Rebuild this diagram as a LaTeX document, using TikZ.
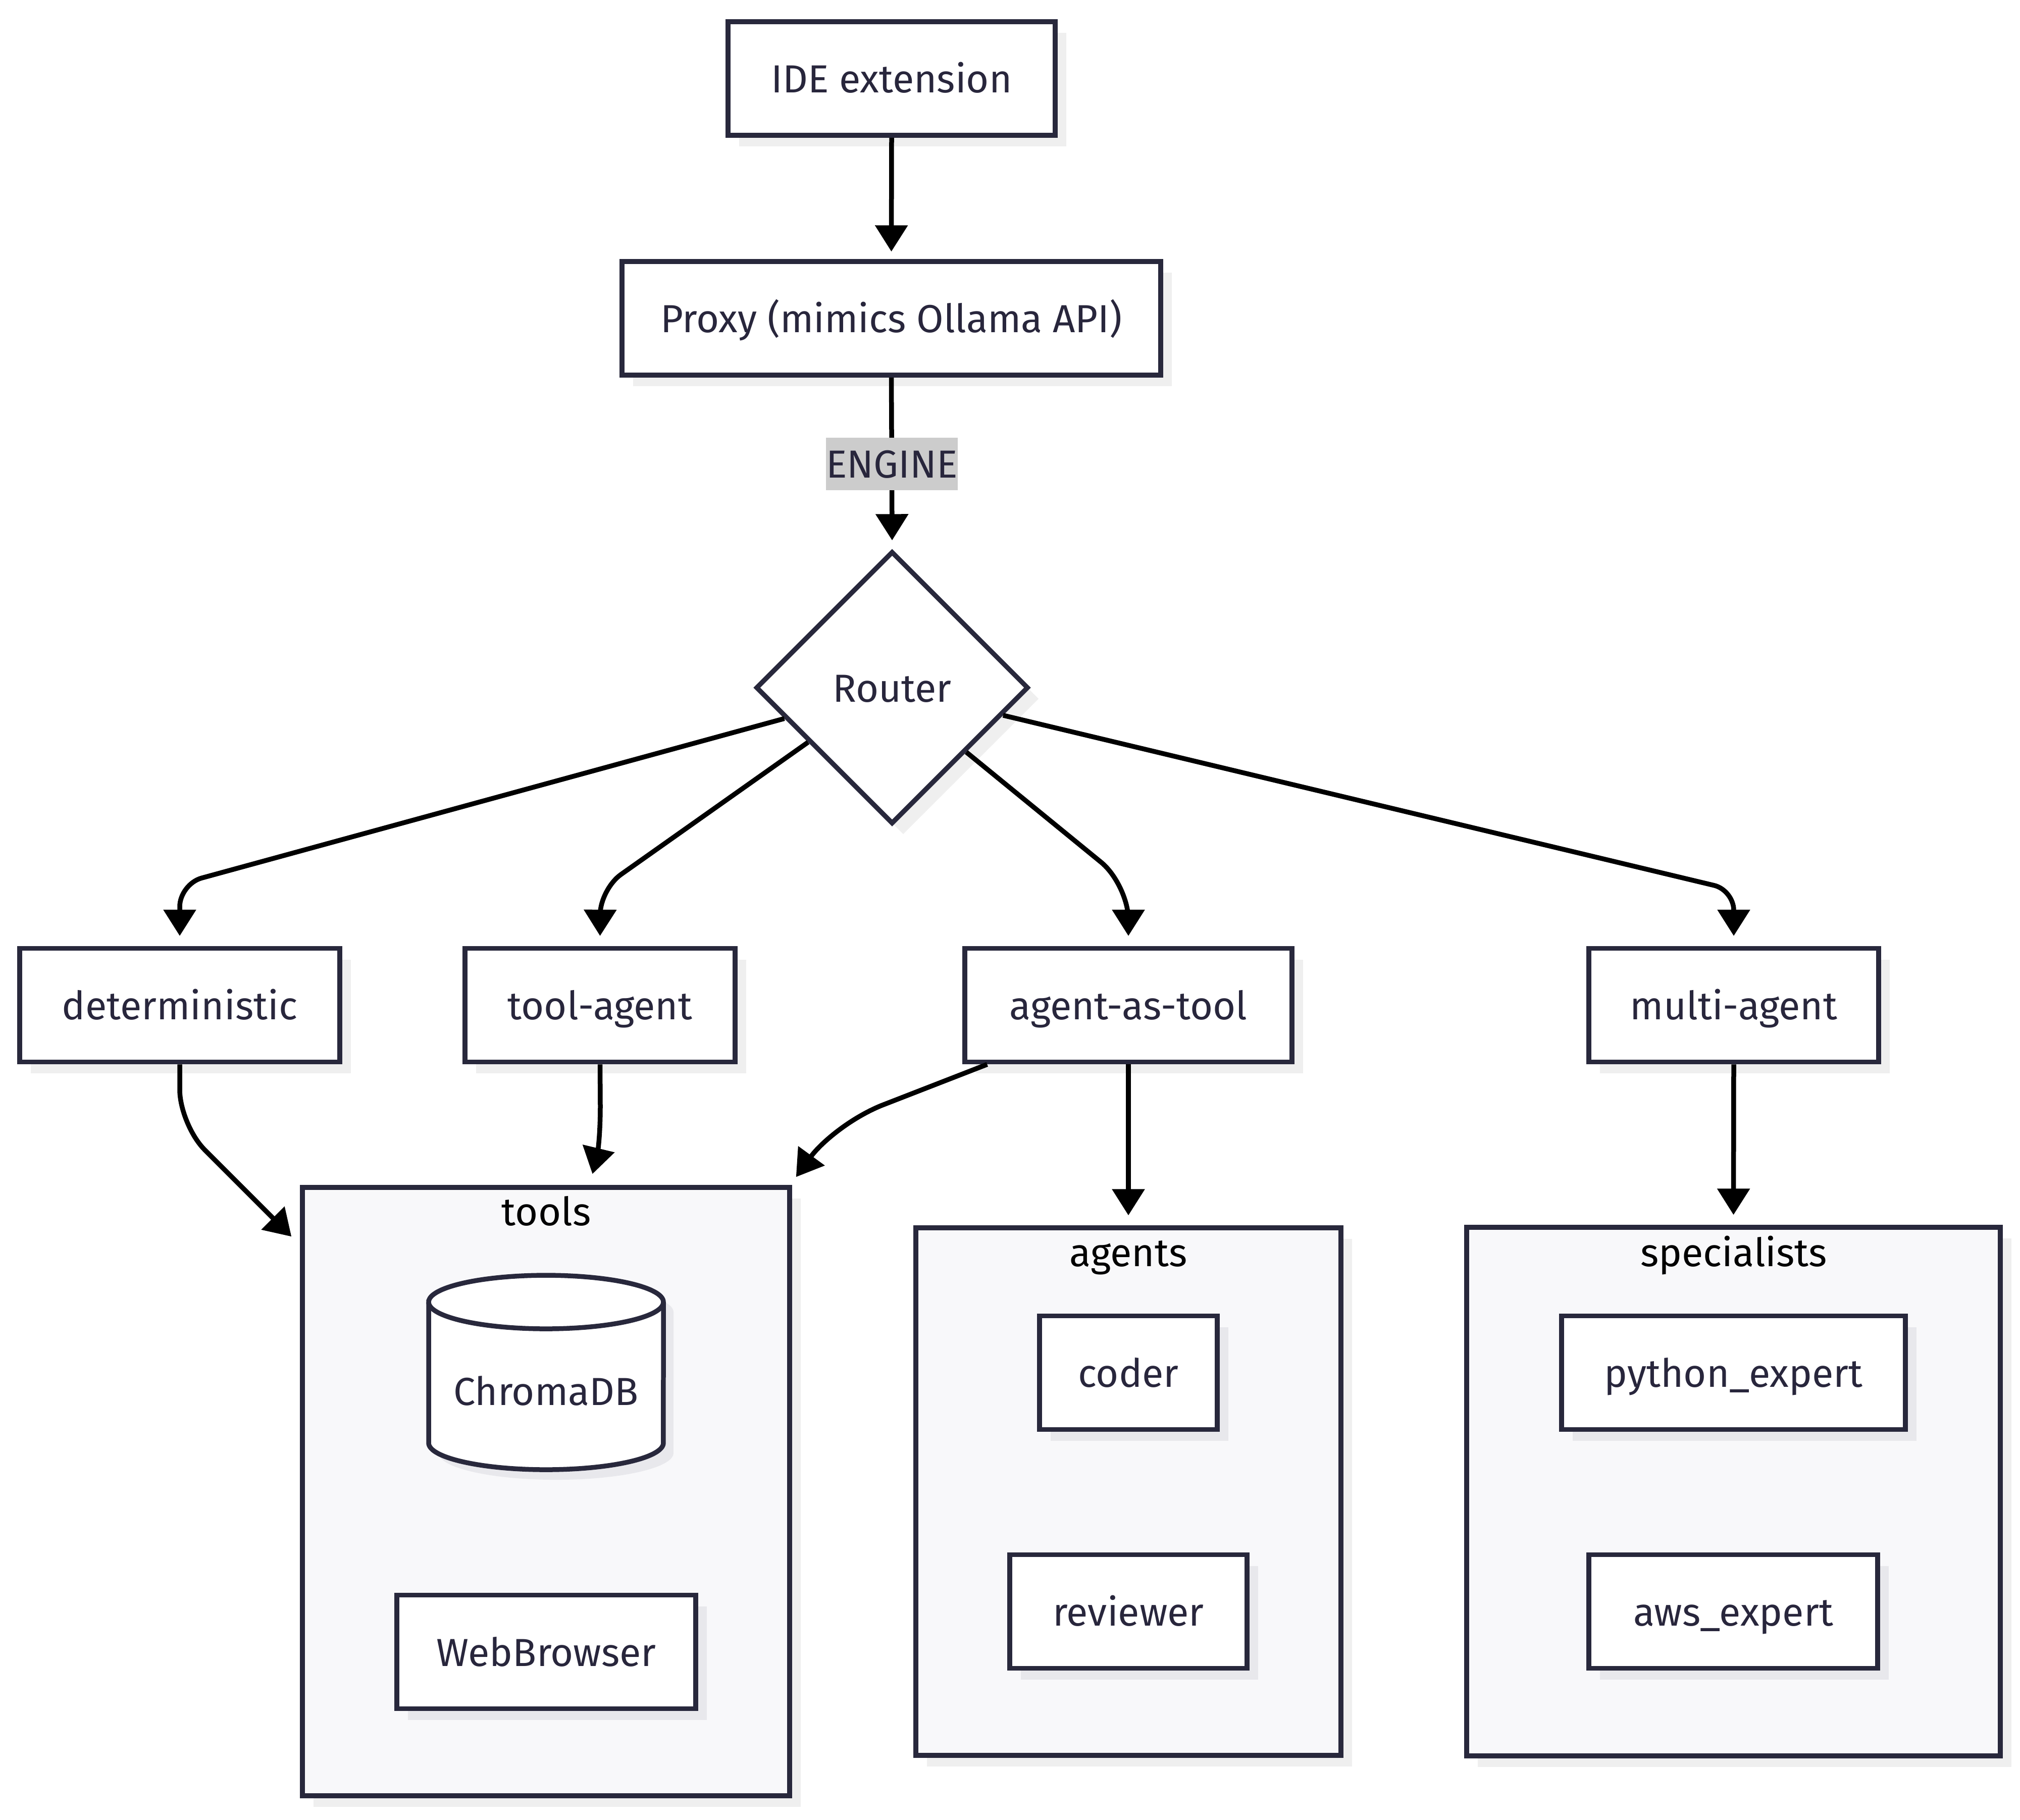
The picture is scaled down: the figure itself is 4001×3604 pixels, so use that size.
\documentclass[tikz,border=0pt]{standalone}
\usepackage{fontspec}
\setmainfont{Fira Sans}
\usetikzlibrary{arrows.meta,shapes.geometric,shadows}
\definecolor{bd}{RGB}{40,40,60}
\definecolor{tx}{RGB}{40,38,60}
\definecolor{shwcol}{RGB}{239,239,239}
\definecolor{shccol}{RGB}{232,232,236}
\definecolor{clf}{RGB}{248,248,250}
\definecolor{lblbg}{RGB}{204,204,204}
\tikzset{
  shadowout/.style={drop shadow={shadow xshift=2.2pt, shadow yshift=-2.2pt, fill=shwcol, opacity=1}},
  shadowin/.style={drop shadow={shadow xshift=2.2pt, shadow yshift=-2.2pt, fill=shccol, opacity=1}},
  txt/.style={text=tx, font=\fontsize{7.75pt}{9.3pt}\selectfont, inner sep=0pt, text height=5.6pt, text depth=0pt},
  box/.style={rectangle, draw=bd, line width=0.95pt, fill=white, txt, minimum height=22.5pt},
  cluster/.style={rectangle, draw=bd, line width=0.95pt, fill=clf, inner sep=0pt, shadowout},
  clabel/.style={text=black, font=\fontsize{7.75pt}{9.3pt}\selectfont, inner sep=0pt, text height=5.6pt, text depth=0pt},
  elabel/.style={fill=lblbg, txt, minimum width=25pt, minimum height=10.4pt},
  edge/.style={draw=black, line width=0.95pt, -{Triangle[length=5.2pt,width=6.3pt]}},
}
\begin{document}
\begin{tikzpicture}[x=0.1pt, y=-0.1pt]
\useasboundingbox (0,0) rectangle (4001,3604);
% clusters
\node[cluster, minimum width=96.5pt, minimum height=120.5pt] (tools) at (1081.5,2954.5) {};
\node[cluster, minimum width=84.2pt, minimum height=104.5pt] (agents) at (2235,2954.5) {};
\node[cluster, minimum width=105.7pt, minimum height=104.7pt] (spec) at (3433.5,2954.5) {};
\node[clabel] (toolslbl) at (1082,2399) {tools};
\node[clabel] (agentslbl) at (2235,2480) {agents};
\node[clabel] (speclbl) at (3434,2480) {specialists};
% top nodes
\node[box, shadowout, minimum width=64.8pt] (ide) at (1766,155.5) {IDE extension};
\node[box, shadowout, minimum width=106.7pt] (proxy) at (1765.5,630.5) {Proxy (mimics Ollama API)};
\node[diamond, draw=bd, line width=0.95pt, fill=white, txt, aspect=1, minimum width=54pt, minimum height=54pt, shadowout] (router) at (1767,1362) {Router};
% row
\node[box, shadowout, minimum width=63.4pt] (det) at (356,1991) {deterministic};
\node[box, shadowout, minimum width=53.5pt] (toolag) at (1188.5,1991) {tool-agent};
\node[box, shadowout, minimum width=64.8pt] (agtool) at (2235,1991) {agent-as-tool};
\node[box, shadowout, minimum width=57.4pt] (multi) at (3434,1991) {multi-agent};
% inner nodes
\fill[shccol] (869,2599) -- (869,2878) arc[start angle=180, end angle=360, x radius=23.25pt, y radius=5.3pt] -- (1334,2599) arc[start angle=0, end angle=180, x radius=23.25pt, y radius=5.3pt] -- cycle;
\filldraw[fill=white, draw=bd, line width=0.95pt] (849,2579) -- (849,2858) arc[start angle=180, end angle=360, x radius=23.25pt, y radius=5.3pt] -- (1314,2579) arc[start angle=0, end angle=180, x radius=23.25pt, y radius=5.3pt] -- cycle;
\draw[draw=bd, line width=0.95pt] (849,2579) arc[start angle=180, end angle=360, x radius=23.25pt, y radius=5.3pt];
\node[txt] (chroma) at (1081.5,2755) {ChromaDB};
\node[box, shadowin, minimum width=59.2pt] (web) at (1082,3272) {WebBrowser};
\node[box, shadowin, minimum width=35.2pt] (coder) at (2235,2719) {coder};
\node[box, shadowin, minimum width=47pt] (reviewer) at (2235,3192) {reviewer};
\node[box, shadowin, minimum width=68.1pt] (python) at (3433.5,2719) {python\_expert};
\node[box, shadowin, minimum width=57.2pt] (aws) at (3433,3192) {aws\_expert};
% edges
\draw[edge] (ide.south) -- ([yshift=1.5pt]proxy.north);
\draw[edge] (proxy.south) -- node[elabel, pos=0.53] (englbl) {ENGINE} ([yshift=1.7pt]router.north);
\draw[edge, rounded corners=4.5pt] (router.196) -- (356,1751) -- ([yshift=2pt]det.north);
\draw[edge, rounded corners=5pt] (router.213.7) -- (1189,1761) -- ([yshift=2pt]toolag.north);
\draw[edge, rounded corners=7pt] (router.319.9) -- (2235,1752) -- ([yshift=2pt]agtool.north);
\draw[edge, rounded corners=4pt] (router.346.6) -- (3434,1763) -- ([yshift=2pt]multi.north);
\draw[edge, rounded corners=7pt] (det.south) -- (356,2228) -- ([shift={(-1.7pt,-10.2pt)}]tools.north west);
\draw[edge] (toolag.south) -- (1189,2190) .. controls (1189,2260) and (1182,2290) .. ([shift={(9.2pt,2.2pt)}]tools.north);
\draw[edge] ([xshift=4.9pt]agtool.south west) -- (1745,2190) .. controls (1680,2217) and (1625,2265) .. ([shift={(0.8pt,1.6pt)}]tools.north east);
\draw[edge] (agtool.south) -- ([yshift=2pt]agents.north);
\draw[edge] (multi.south) -- ([yshift=2pt]spec.north);
\end{tikzpicture}
\end{document}
